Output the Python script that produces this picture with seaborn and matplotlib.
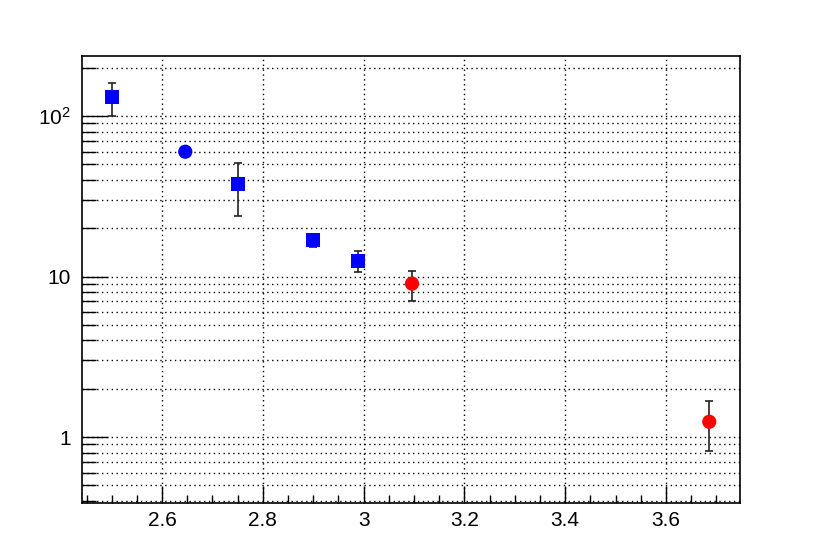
import numpy as np
import pandas as pd
import matplotlib
matplotlib.use("Agg")
import matplotlib.pyplot as plt
import matplotlib.ticker as mticker
import seaborn as sns

# data
x_vals = [2.50, 2.646, 2.751, 2.900, 2.989, 3.096, 3.686]
y_vals = [131.0, 60.0, 37.7, 16.9, 12.5, 9.04, 1.245]
y_hi = [162.0, 62.5, 50.9, 18.5, 14.4, 10.9, 1.68]
y_lo = [100.0, 57.5, 23.9, 15.2, 10.7, 7.08, 0.82]
group = ["sq", "circ_b", "sq", "sq", "sq", "circ_r", "circ_r"]

df = pd.DataFrame({"x": x_vals, "y": y_vals, "hi": y_hi, "lo": y_lo, "g": group})

sns.set_style("white")
plt.rcParams['font.family'] = ['Liberation Sans', 'DejaVu Sans']

fig = plt.figure(figsize=(8.22, 5.6), dpi=100)
ax = fig.add_axes([82/822, 1-503/560, (740-82)/822, (503-56)/560])

yerr = np.array([df["y"] - df["lo"], df["hi"] - df["y"]])
ax.errorbar(df["x"], df["y"], yerr=yerr, fmt="none", ecolor="#222222",
            elinewidth=1.2, capsize=3, capthick=1.2, zorder=2)

sns.scatterplot(data=df, x="x", y="y", hue="g", style="g",
                palette={"sq": "#0000ff", "circ_b": "#0000ff", "circ_r": "#ff0000"},
                markers={"sq": "s", "circ_b": "o", "circ_r": "o"},
                s=105, edgecolor="none", legend=False, ax=ax, zorder=3)

ax.set_yscale("log")
ax.set_xlim(2.441, 3.747)
ax.set_ylim(0.388, 237)
ax.set_xlabel("")
ax.set_ylabel("")

ax.xaxis.set_major_locator(mticker.MultipleLocator(0.2))
ax.xaxis.set_minor_locator(mticker.MultipleLocator(0.05))
ax.xaxis.set_major_formatter(mticker.FuncFormatter(lambda v, p: f"{v:g}"))

ax.yaxis.set_major_locator(mticker.FixedLocator([1, 10, 100]))
ax.yaxis.set_minor_locator(mticker.LogLocator(base=10, subs=np.arange(2, 10), numticks=20))
ax.yaxis.set_minor_formatter(mticker.NullFormatter())
ylab = {1: "1", 10: "10", 100: r"$\mathregular{10^{2}}$"}
ax.yaxis.set_major_formatter(mticker.FuncFormatter(lambda v, p: ylab.get(int(round(v)), "")))

ax.grid(True, which="major", axis="x", color="black", linestyle=(0, (1, 2.5)), linewidth=1.0)
ax.grid(True, which="both", axis="y", color="black", linestyle=(0, (1, 2.5)), linewidth=1.0)

ax.tick_params(axis="both", which="both", direction="in", top=False, right=False,
               bottom=True, left=True, labelsize=15, colors="black")
ax.tick_params(axis="x", which="major", length=12, width=1, pad=6)
ax.tick_params(axis="x", which="minor", length=6, width=1)
ax.tick_params(axis="y", which="major", length=19, width=1, pad=8)
ax.tick_params(axis="y", which="minor", length=10, width=1)

for s in ax.spines.values():
    s.set_color("black")
    s.set_linewidth(1.2)
    s.set_visible(True)

fig.savefig("out.png", dpi=100)
